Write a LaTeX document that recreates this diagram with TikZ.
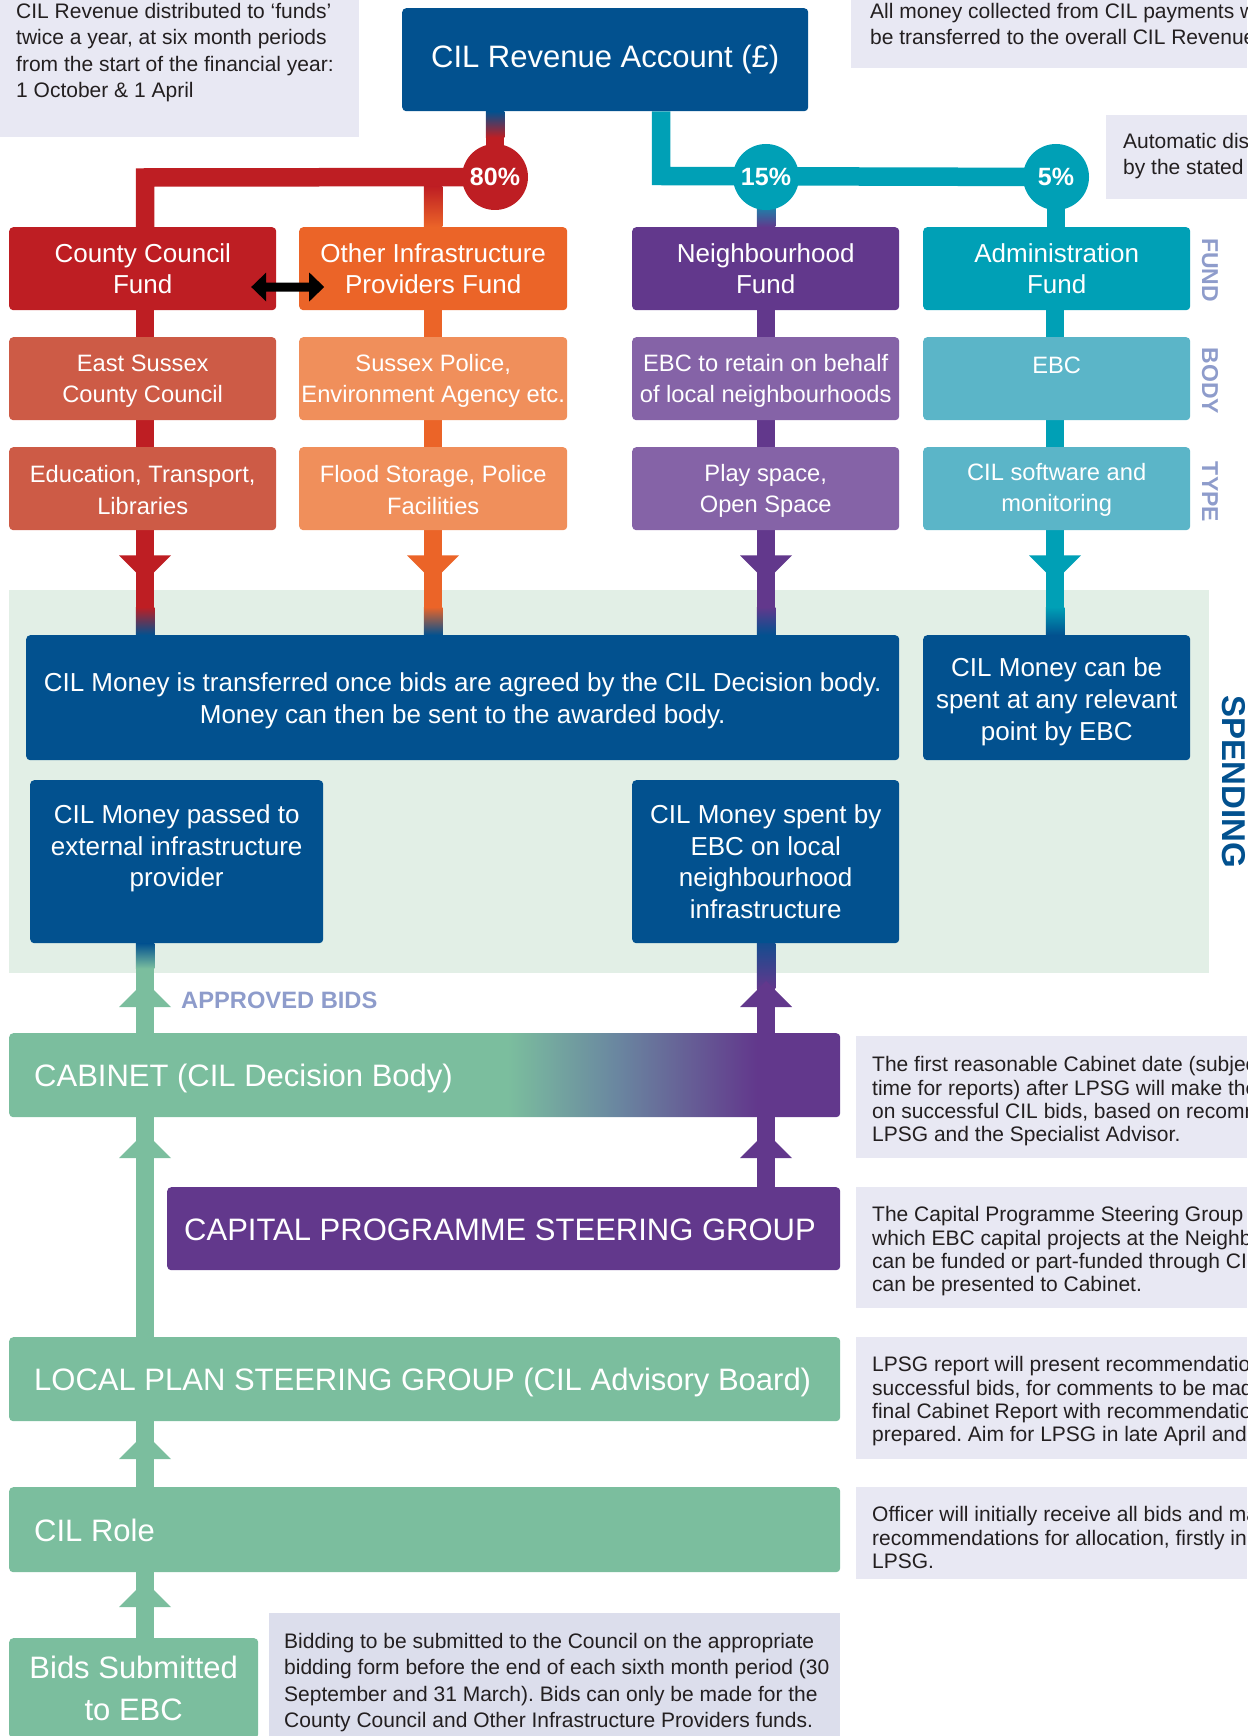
\documentclass[tikz,border=0pt]{standalone}
\usepackage{fontspec}
\setmainfont{Liberation Sans}
\usetikzlibrary{calc}
\pgfdeclarelayer{bgl}
\pgfdeclarelayer{conn}
\pgfsetlayers{bgl,conn,main}
\definecolor{dblue}{HTML}{02518F}
\definecolor{cred}{HTML}{BE1E23}
\definecolor{corange}{HTML}{EB6428}
\definecolor{cpurple}{HTML}{62388C}
\definecolor{cteal}{HTML}{00A0B6}
\definecolor{lred}{HTML}{CD5B46}
\definecolor{lorange}{HTML}{F08F5B}
\definecolor{lpurple}{HTML}{8563A7}
\definecolor{lteal}{HTML}{5BB5C8}
\definecolor{cgreen}{HTML}{7BBE9E}
\definecolor{spendbg}{HTML}{E2EFE6}
\definecolor{notebg}{HTML}{E8E8F3}
\definecolor{bidbg}{HTML}{DCDEEC}
\definecolor{lblue}{HTML}{8E9CCB}
\definecolor{cmid}{HTML}{6A87A0}
\definecolor{ntext}{HTML}{231F20}
\pgfdeclarehorizontalshading{cabshade}{100bp}{color(0bp)=(cgreen); color(55bp)=(cgreen); color(61.5bp)=(cmid); color(70bp)=(cpurple); color(100bp)=(cpurple)}
\newcommand\myfs[2]{\fontsize{#1}{#2}\selectfont}
\frenchspacing
\begin{document}
\frenchspacing
\begin{tikzpicture}[x=1pt,y=-1pt,
  box/.style={rounded corners=4pt, inner sep=0pt, text=white, align=center, anchor=north west},
  fundrow/.style={box, minimum width=267pt, minimum height=83pt, font=\myfs{26}{31}},
  subrow/.style={box, minimum width=268pt, minimum height=83pt, font=\myfs{23.7}{31.5}},
  spendbox/.style={box, fill=dblue, font=\myfs{26}{31.6}},
  widebox/.style={box, minimum width=831pt, minimum height=84pt},
  boxtext/.style={anchor=base west, inner sep=0pt, text=white, font=\myfs{31}{37}},
  pct/.style={circle, minimum size=66pt, inner sep=0pt, text=white, font=\myfs{25}{30}\bfseries},
  notetext/.style={anchor=base west, inner sep=0pt, text=ntext},
  side/.style={inner sep=0pt, text=lblue, font=\myfs{23}{23}\bfseries, rotate=-90},
  band/.style={line width=18.5pt}]
\useasboundingbox (0,0) rectangle (1247,1736);
\clip (0,0) rectangle (1247,1736);

% ---------- top ----------
\node[box, fill=dblue, minimum width=406pt, minimum height=103pt, font=\myfs{31}{37}] (cil) at (402,8) {CIL Revenue Account (£)};

\node[pct, fill=cred] (p80) at (495,177) {80\%};
\node[pct, fill=cteal] (p15) at (766,177) {15\%};
\node[pct, fill=cteal] (p5) at (1056,177) {5\%};

% ---------- fund row ----------
\node[fundrow, fill=cred] (ccf) at (9,227) {County Council\\Fund};
\node[fundrow, fill=corange, minimum width=268pt] (oip) at (299,227) {Other Infrastructure\\Providers Fund};
\node[fundrow, fill=cpurple] (nbf) at (632,227) {Neighbourhood\\Fund};
\node[fundrow, fill=cteal] (adf) at (923,227) {Administration\\Fund};

% ---------- body row ----------
\node[subrow, fill=lred, minimum width=267pt] (esc) at (9,337) {\rule{0pt}{21.5pt}East Sussex\\County Council};
\node[subrow, fill=lorange] (spo) at (299,337) {\rule{0pt}{21.5pt}Sussex Police,\\Environment Agency etc.};
\node[subrow, fill=lpurple, minimum width=267pt] (ebr) at (632,337) {\rule{0pt}{21.5pt}EBC to retain on behalf\\of local neighbourhoods};
\node[subrow, fill=lteal, minimum width=267pt] (ebc) at (923,337) {\rule{0pt}{21.5pt}EBC\\\mbox{}};

% ---------- type row ----------
\node[subrow, fill=lred, minimum width=267pt] (edu) at (9,447) {\rule{0pt}{20pt}Education, Transport,\\Libraries};
\node[subrow, fill=lorange] (fld) at (299,447) {\rule{0pt}{20pt}Flood Storage, Police\\Facilities};
\node[subrow, fill=lpurple, minimum width=267pt] (ply) at (632,447) {\rule{0pt}{21.5pt}Play space,\\Open Space};
\node[subrow, fill=lteal, minimum width=267pt] (sft) at (923,447) {\rule{0pt}{20pt}CIL software and\\monitoring};

% ---------- spending ----------
\node[spendbox, minimum width=873pt, minimum height=125pt] (big) at (26,635) {\rule{0pt}{25pt}CIL Money is transferred once bids are agreed by the CIL Decision body.\\Money can then be sent to the awarded body.};
\node[spendbox, minimum width=267pt, minimum height=125pt] (spr) at (923,635) {\rule{0pt}{27pt}CIL Money can be\\spent at any relevant\\point by EBC};
\node[spendbox, minimum width=293pt, minimum height=163pt] (lol) at (30,780) {CIL Money passed to\\external infrastructure\\provider\\\mbox{}};
\node[spendbox, minimum width=267pt, minimum height=163pt] (lom) at (632,780) {CIL Money spent by\\EBC on local\\neighbourhood\\infrastructure};

% ---------- process ----------
\node[widebox, shade, shading=cabshade] (cab) at (9,1033) {};
\node[boxtext] (cabt) at ($(cab.west)+(25,11.5)$) {CABINET (CIL Decision Body)};
\node[box, fill=cpurple, minimum width=673pt, minimum height=83pt] (cpsg) at (167,1187) {};
\node[boxtext] (cpsgt) at ($(cpsg.west)+(17,11.5)$) {CAPITAL PROGRAMME STEERING GROUP};
\node[widebox, fill=cgreen] (lpsg) at (9,1337) {};
\node[boxtext] (lpsgt) at ($(lpsg.west)+(25,11.5)$) {LOCAL PLAN STEERING GROUP (CIL Advisory Board)};
\node[widebox, fill=cgreen, minimum height=85pt] (role) at (9,1487) {};
\node[boxtext] (rolet) at ($(role.west)+(25,12)$) {CIL Role};
\node[box, fill=cgreen, minimum width=249pt, minimum height=100pt, font=\myfs{31}{42}] (bids) at (9,1638) {Bids Submitted\\to EBC};

% ---------- side labels ----------
\node[side] (lfund) at (1210,270) {FUND};
\node[side] (lbody) at (1210,381) {BODY};
\node[side] (ltype) at (1210,492) {TYPE};
\node[rotate=-90, inner sep=0pt, text=dblue, font=\myfs{33}{33}\bfseries] (lspend) at (1234,782) {SPENDING};
\node[anchor=base west, inner sep=0pt, text=lblue, font=\myfs{23.7}{24}\bfseries] (lapp) at (181,1008) {APPROVED BIDS};

% ---------- notes ----------
\node[notetext, font=\myfs{21}{26.5}] (ntl) at (16,18.5) {\vtop{\hbox{CIL Revenue distributed to ‘funds’}\hbox{twice a year, at six month periods}\hbox{from the start of the financial year:}\hbox{1 October \& 1 April}}};
\node[notetext, font=\myfs{21}{26.5}] (ntr) at (870,18.5) {\vtop{\hbox{All money collected from CIL payments will}\hbox{be transferred to the overall CIL Revenue}}};
\node[notetext, font=\myfs{21}{26.5}] (nauto) at (1123,148.3) {\vtop{\hbox{Automatic distribution}\hbox{by the stated}}};
\node[notetext, font=\myfs{21}{23.3}] (ncab) at (872,1071.7) {\vtop{\hbox{The first reasonable Cabinet date (subject}\hbox{time for reports) after LPSG will make the}\hbox{on successful CIL bids, based on recommendations}\hbox{LPSG and the Specialist Advisor.}}};
\node[notetext, font=\myfs{21}{23.3}] (ncps) at (872,1221.7) {\vtop{\hbox{The Capital Programme Steering Group}\hbox{which EBC capital projects at the Neighbourhood}\hbox{can be funded or part-funded through CIL}\hbox{can be presented to Cabinet.}}};
\node[notetext, font=\myfs{21}{23.3}] (nlps) at (872,1371.7) {\vtop{\hbox{LPSG report will present recommendations}\hbox{successful bids, for comments to be made}\hbox{final Cabinet Report with recommendations}\hbox{prepared. Aim for LPSG in late April and}}};
\node[notetext, font=\myfs{21}{23.3}] (nrole) at (872,1521.7) {\vtop{\hbox{Officer will initially receive all bids and make}\hbox{recommendations for allocation, firstly in}\hbox{LPSG.}}};
\node[notetext, font=\myfs{21}{26.4}] (nbid) at (284,1648.3) {\vtop{\hbox{Bidding to be submitted to the Council on the appropriate}\hbox{bidding form before the end of each sixth month period (30}\hbox{September and 31 March). Bids can only be made for the}\hbox{County Council and Other Infrastructure Providers funds.}}};

% ---------- backgrounds ----------
\begin{pgfonlayer}{bgl}
\fill[spendbg] (9,590) rectangle (1209,973);
\fill[notebg] (0,0) rectangle (359,137);
\fill[notebg] (851,0) rectangle (1247,68);
\fill[notebg] (1106,115) rectangle (1247,199);
\fill[notebg] (856,1036) rectangle (1247,1158);
\fill[notebg] (856,1187) rectangle (1247,1308);
\fill[notebg] (856,1337) rectangle (1247,1459);
\fill[notebg] (856,1487) rectangle (1247,1579);
\fill[bidbg] (269,1613) rectangle (840,1736);
\end{pgfonlayer}

% ---------- connectors ----------
\coordinate (colA) at (145,0);
\coordinate (colB) at (433,0);
\coordinate (colC) at (766,0);
\coordinate (colD) at (1055,0);
\coordinate (rj) at (145,177.5);
\coordinate (tj) at (661,176);
\begin{pgfonlayer}{conn}
% revenue to 80%
\draw[band, cred] (p80 |- cil.south) -- (p80.center);
\shade[top color=dblue, bottom color=cred] ($(p80 |- cil.south)+(-9.25,0)$) rectangle ($(p80 |- cil.south)+(9.25,26)$);
\draw[band, cred, line join=miter] (p80.center) -- (rj) -- (rj |- ccf.north);
\shade[top color=cred, bottom color=corange] ($(colB |- rj)+(-9.25,9)$) rectangle ($(colB |- oip.north)+(9.25,0)$);
% revenue to 15% and 5%
\draw[band, cteal, line join=miter] (tj |- cil.south) -- (tj) -- (p5.center);
\shade[top color=cteal, bottom color=cpurple] ($(p15.center)+(-9.25,22)$) rectangle ($(p15 |- nbf.north)+(9.25,0)$);
\draw[band, cteal] (p5.center) -- (p5 |- adf.north);
% column stems
\draw[band, cred] (colA |- ccf.south) -- (colA |- esc.north);
\draw[band, cred] (colA |- esc.south) -- (colA |- edu.north);
\draw[band, cred] (colA |- edu.south) -- (colA |- big.north);
\draw[band, corange] (colB |- oip.south) -- (colB |- spo.north);
\draw[band, corange] (colB |- spo.south) -- (colB |- fld.north);
\draw[band, corange] (colB |- fld.south) -- (colB |- big.north);
\draw[band, cpurple] (colC |- nbf.south) -- (colC |- ebr.north);
\draw[band, cpurple] (colC |- ebr.south) -- (colC |- ply.north);
\draw[band, cpurple] (colC |- ply.south) -- (colC |- big.north);
\draw[band, cteal] (colD |- adf.south) -- (colD |- ebc.north);
\draw[band, cteal] (colD |- ebc.south) -- (colD |- sft.north);
\draw[band, cteal] (colD |- sft.south) -- (colD |- spr.north);
% down arrowheads
\fill[cred] ($(colA |- edu.south)+(-26,25)$) -- ++(52,0) -- ++(-26,26) -- cycle;
\fill[corange] ($(colB |- fld.south)+(-26,25)$) -- ++(52,0) -- ++(-26,26) -- cycle;
\fill[cpurple] ($(colC |- ply.south)+(-26,25)$) -- ++(52,0) -- ++(-26,26) -- cycle;
\fill[cteal] ($(colD |- sft.south)+(-26,25)$) -- ++(52,0) -- ++(-26,26) -- cycle;
% blend into spending boxes
\shade[top color=cred, bottom color=dblue] ($(colA |- big.north)+(-9.25,-28)$) rectangle ($(colA |- big.north)+(9.25,0)$);
\shade[top color=corange, bottom color=dblue] ($(colB |- big.north)+(-9.25,-28)$) rectangle ($(colB |- big.north)+(9.25,0)$);
\shade[top color=cpurple, bottom color=dblue] ($(colC |- big.north)+(-9.25,-28)$) rectangle ($(colC |- big.north)+(9.25,0)$);
\shade[top color=cteal, bottom color=dblue] ($(colD |- spr.north)+(-9.25,-28)$) rectangle ($(colD |- spr.north)+(9.25,0)$);
% approved bids
\draw[band, cgreen] (colA |- lol.south) -- (colA |- cab.north);
\shade[top color=dblue, bottom color=cgreen] ($(colA |- lol.south)+(-9.25,0)$) rectangle ($(colA |- lol.south)+(9.25,25)$);
\draw[band, cpurple] (colC |- lom.south) -- (colC |- cab.north);
\shade[top color=dblue!80!cpurple, bottom color=cpurple] ($(colC |- lom.south)+(-9.25,0)$) rectangle ($(colC |- lom.south)+(9.25,45)$);
\fill[cgreen] ($(colA |- cab.north)+(-26,-26)$) -- ++(52,0) -- ++(-26,-26) -- cycle;
\fill[cpurple] ($(colC |- cab.north)+(-26,-26)$) -- ++(52,0) -- ++(-26,-26) -- cycle;
% lower process
\draw[band, cpurple] (colC |- cab.south) -- (colC |- cpsg.north);
\fill[cpurple] ($(colC |- cpsg.north)+(-26,-29)$) -- ++(52,0) -- ++(-26,-26) -- cycle;
\draw[band, cgreen] (colA |- cab.south) -- (colA |- lpsg.north);
\fill[cgreen] ($(colA |- cpsg.north)+(-26,-29)$) -- ++(52,0) -- ++(-26,-26) -- cycle;
\draw[band, cgreen] (colA |- lpsg.south) -- (colA |- role.north);
\fill[cgreen] ($(colA |- role.north)+(-26,-28)$) -- ++(52,0) -- ++(-26,-26) -- cycle;
\draw[band, cgreen] (colA |- role.south) -- (colA |- bids.north);
\fill[cgreen] ($(colA |- bids.north)+(-26,-31)$) -- ++(52,0) -- ++(-26,-26) -- cycle;
\end{pgfonlayer}

% ---------- double arrow between county and other providers ----------
\coordinate (dac) at ($(ccf.east |- 0,287)!0.5!(oip.west |- 0,287)$);
\fill[black] ($(dac)+(-36.5,0)$) -- ++(15,-14.5) -- ++(0,10) -- ++(43,0) -- ++(0,-10) -- ++(15,14.5) -- ++(-15,14.5) -- ++(0,-10) -- ++(-43,0) -- ++(0,10) -- cycle;
\end{tikzpicture}
\end{document}
